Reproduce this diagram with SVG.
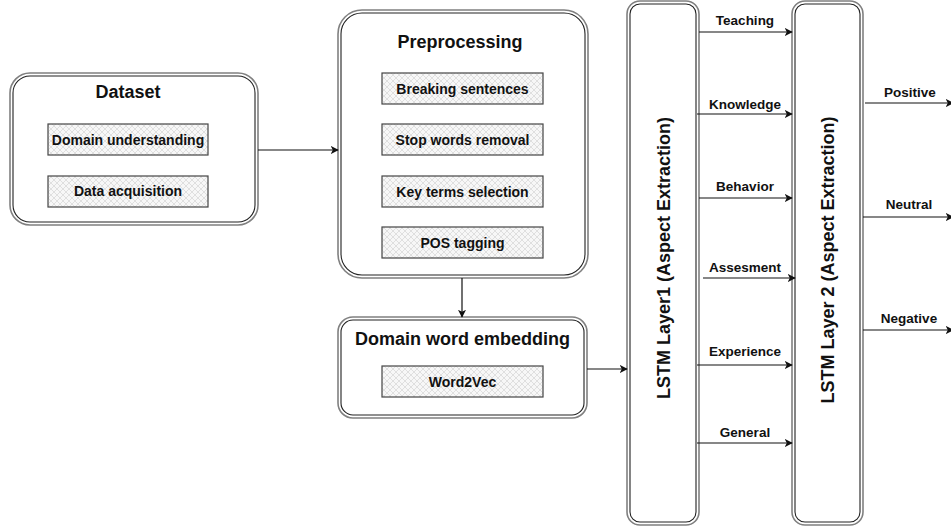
<svg xmlns="http://www.w3.org/2000/svg" width="951" height="529" viewBox="0 0 951 529">
<style>
.outer{fill:#fff;stroke:#808080;stroke-width:1.6}
.inner{fill:none;stroke:#222;stroke-width:1.1}
.sub{fill:url(#hatch);stroke:#444;stroke-width:1.2}
.t{font-family:"Liberation Sans",Arial,sans-serif;font-weight:bold;fill:#111;text-anchor:middle}
.title{font-size:18px}
.s{font-size:14px}
.lbl{font-size:13.5px}
.conn{stroke:#111;stroke-width:1.2;fill:none;marker-end:url(#arr)}
</style>
<defs>
<pattern id="hatch" width="6" height="6" patternUnits="userSpaceOnUse">
<rect width="6" height="6" fill="#f7f7f7"/>
<path d="M0,0 L6,6 M6,0 L0,6" stroke="#d4d4d4" stroke-width="0.7"/>
</pattern>
<marker id="arr" viewBox="0 0 10 10" refX="9" refY="5" markerWidth="8" markerHeight="8" markerUnits="userSpaceOnUse" orient="auto">
<path d="M0,0 L10,5 L0,10 L2.5,5 Z" fill="#111"/>
</marker>
</defs>

<g id="dataset">
<rect class="outer" x="10" y="73" width="248" height="152" rx="20"/>
<rect class="inner" x="13" y="76" width="242" height="146" rx="17"/>
<text class="t title" x="128" y="98">Dataset</text>
<rect class="sub" x="48" y="124" width="160" height="31"/>
<text class="t s" x="128" y="145">Domain understanding</text>
<rect class="sub" x="48" y="176" width="160" height="31"/>
<text class="t s" x="128" y="196">Data acquisition</text>
</g>

<g id="preprocessing">
<rect class="outer" x="338" y="10" width="250" height="268" rx="24"/>
<rect class="inner" x="341" y="13" width="244" height="262" rx="21"/>
<text class="t title" x="460" y="48">Preprocessing</text>
<rect class="sub" x="382" y="73" width="161" height="31"/>
<text class="t s" x="462.5" y="94">Breaking sentences</text>
<rect class="sub" x="382" y="124" width="161" height="31"/>
<text class="t s" x="462.5" y="145">Stop words removal</text>
<rect class="sub" x="382" y="176" width="161" height="31"/>
<text class="t s" x="462.5" y="197">Key terms selection</text>
<rect class="sub" x="382" y="227" width="161" height="31"/>
<text class="t s" x="462.5" y="248">POS tagging</text>
</g>

<g id="embedding">
<rect class="outer" x="338" y="317" width="249" height="101" rx="15"/>
<rect class="inner" x="341" y="320" width="243" height="95" rx="12"/>
<text class="t title" x="462.5" y="345">Domain word embedding</text>
<rect class="sub" x="382" y="366" width="161" height="31"/>
<text class="t s" x="462.5" y="387">Word2Vec</text>
</g>

<g id="lstm1">
<rect class="outer" x="627" y="1" width="72" height="524" rx="13"/>
<rect class="inner" x="630" y="4" width="66" height="518" rx="10"/>
<text class="t title" transform="translate(670,258) rotate(-90)">LSTM Layer1 (Aspect Extraction)</text>
</g>

<g id="lstm2">
<rect class="outer" x="792" y="1" width="71" height="524" rx="13"/>
<rect class="inner" x="795" y="4" width="65" height="518" rx="10"/>
<text class="t title" transform="translate(834,260) rotate(-90)">LSTM Layer 2 (Aspect Extraction)</text>
</g>

<g id="connectors">
<path class="conn" d="M258,150 H338"/>
<path class="conn" d="M462,278 V317"/>
<path class="conn" d="M587,369 H627"/>
<path class="conn" d="M699,32 H792"/>
<path class="conn" d="M697,114 H792"/>
<path class="conn" d="M699,198 H792"/>
<path class="conn" d="M703,278 H795"/>
<path class="conn" d="M697,365 H792"/>
<path class="conn" d="M697,443 H792"/>
<path class="conn" d="M865,103 H953"/>
<path class="conn" d="M863,217 H953"/>
<path class="conn" d="M863,330 H953"/>
<text class="t lbl" x="745" y="25">Teaching</text>
<text class="t lbl" x="745" y="109">Knowledge</text>
<text class="t lbl" x="745" y="191">Behavior</text>
<text class="t lbl" x="745" y="272">Assesment</text>
<text class="t lbl" x="745" y="356">Experience</text>
<text class="t lbl" x="745" y="437">General</text>
<text class="t lbl" x="910" y="97">Positive</text>
<text class="t lbl" x="909" y="209">Neutral</text>
<text class="t lbl" x="909" y="323">Negative</text>
</g>
</svg>
